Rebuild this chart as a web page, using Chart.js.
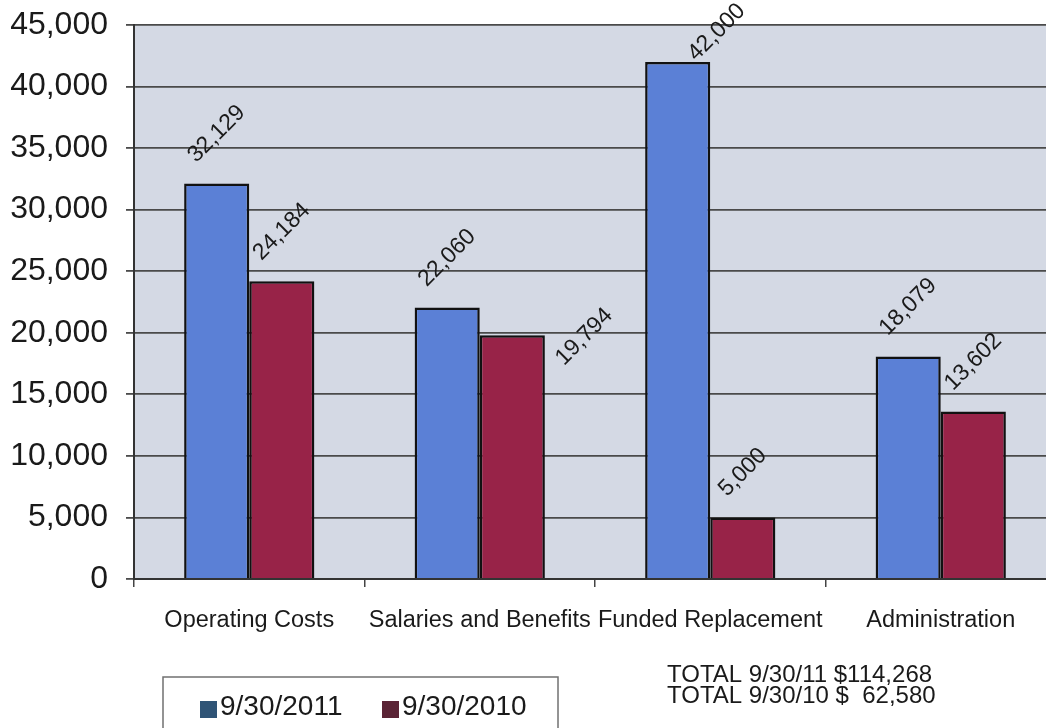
<!DOCTYPE html>
<html>
<head>
<meta charset="utf-8">
<title>Expenses 2011 vs 2010</title>
<script src="https://cdn.jsdelivr.net/npm/chart.js@4/dist/chart.umd.min.js"></script>
<style>
    body { margin: 0; overflow: hidden; background: #fff; }
    canvas { display: block; }
</style>
</head>
<body>
<canvas id="chart-bar" width="1070" height="728"></canvas>
<script>
const categories = ['Operating Costs', 'Salaries and Benefits', 'Funded Replacement', 'Administration']
const seriesNames = ['9/30/2011', '9/30/2010']
const values2011 = [32129, 22060, 42000, 18079]
const values2010 = [24184, 19794, 5000, 13602]
const totalLines = ['TOTAL 9/30/11 $114,268', 'TOTAL 9/30/10 $  62,580']
const yMax = 45000
const yStep = 5000

const FONT = "'Liberation Sans', Arial, sans-serif"
const TEXT = '#1a1a1a'

Chart.defaults.font.family = FONT
Chart.defaults.color = TEXT

// grey plot area behind the bars
const plotBackground = {
    id: 'plotBackground',
    beforeDraw(chart) {
        const { ctx, chartArea: a } = chart
        ctx.save()
        ctx.fillStyle = '#d4d9e4'
        ctx.fillRect(a.left, a.top, a.right - a.left, a.bottom - a.top)
        ctx.restore()
    }
}

// value labels, rotated 45 degrees above each bar
const barLabels = {
    id: 'barLabels',
    afterDatasetsDraw(chart, args, opts) {
        const ctx = chart.ctx
        ctx.save()
        ctx.font = '23px ' + FONT
        ctx.fillStyle = TEXT
        ctx.textAlign = 'center'
        ctx.textBaseline = 'middle'
        chart.data.datasets.forEach((ds, di) => {
            chart.getDatasetMeta(di).data.forEach((bar, i) => {
                const text = ds.data[i].toLocaleString('en-US')
                const w = ctx.measureText(text).width
                const nudge = opts.nudge[di + '-' + i] || { dx: 0, dy: 0 }
                const lift = (w + 16) / (2 * Math.SQRT2) + 19
                ctx.save()
                ctx.translate(bar.x + nudge.dx, bar.y - lift + nudge.dy)
                ctx.rotate(-Math.PI / 4)
                ctx.fillText(text, 0, 0)
                ctx.restore()
            })
        })
        ctx.restore()
    }
}

// boxed legend and the two total lines under the axis
const footer = {
    id: 'footer',
    afterDraw(chart, args, opts) {
        const ctx = chart.ctx
        ctx.save()
        ctx.strokeStyle = '#707070'
        ctx.lineWidth = 1.5
        ctx.strokeRect(163, 677, 395, 80)

        ctx.font = '28px ' + FONT
        ctx.textBaseline = 'alphabetic'
        let x = 200
        seriesNames.forEach((name, i) => {
            ctx.fillStyle = opts.swatches[i]
            ctx.fillRect(x, 701, 17, 17)
            ctx.fillStyle = TEXT
            ctx.fillText(name, x + 20, 715)
            x += 182
        })

        ctx.font = '24px ' + FONT
        totalLines.forEach((line, i) => {
            ctx.fillText(line, 667, 682 + i * 21)
        })
        ctx.restore()
    }
}

let bar = document.getElementById('chart-bar')

new Chart(bar, {
    type: 'bar',
    data: {
        labels: categories,
        datasets: [
            {
                label: seriesNames[0],
                data: values2011,
                backgroundColor: '#5b80d6',
                borderColor: '#111',
                borderWidth: 2.5
            },
            {
                label: seriesNames[1],
                data: values2010,
                backgroundColor: '#982348',
                borderColor: '#111',
                borderWidth: 2.5
            }
        ]
    },
    options: {
        responsive: false,
        animation: false,
        categoryPercentage: 0.565,
        barPercentage: 1,
        layout: {
            padding: { top: 25, right: 14, left: 0, bottom: 0 }
        },
        scales: {
            x: {
                afterFit(scale) {
                    scale.height = 149
                    scale.paddingLeft = 0
                    scale.paddingRight = 0
                },
                ticks: {
                    font: { size: 23.5 },
                    padding: 19,
                    maxRotation: 0,
                    autoSkip: false
                },
                border: {
                    display: true,
                    color: '#333',
                    width: 2
                },
                grid: {
                    display: true,
                    offset: true,
                    drawOnChartArea: false,
                    drawTicks: true,
                    tickLength: 8,
                    color: '#444',
                    lineWidth: 1.5
                }
            },
            y: {
                afterFit(scale) {
                    scale.width = 134
                    scale.paddingTop = 0
                    scale.paddingBottom = 0
                },
                min: 0,
                max: yMax,
                ticks: {
                    stepSize: yStep,
                    font: { size: 32 },
                    padding: 18
                },
                border: {
                    display: true,
                    color: '#333',
                    width: 2
                },
                grid: {
                    display: true,
                    color: '#4a4a4a',
                    lineWidth: 1.8,
                    tickLength: 8
                }
            }
        },
        plugins: {
            legend: { display: false },
            tooltip: { enabled: false },
            barLabels: {
                nudge: { '0-2': { dx: 39, dy: 20 }, '1-1': { dx: 72, dy: 51 } }
            },
            footer: {
                swatches: ['#2f5476', '#5a2335']
            }
        }
    },
    plugins: [plotBackground, barLabels, footer]
})
</script>
</body>
</html>
